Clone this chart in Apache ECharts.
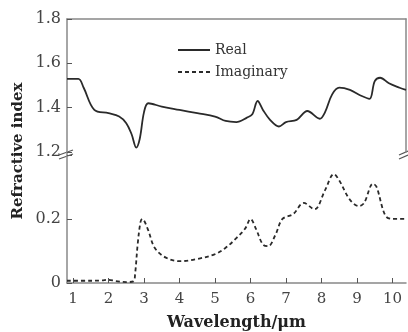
<!DOCTYPE html>
<html>
<head>
<meta charset="utf-8">
<script src="https://cdn.jsdelivr.net/npm/echarts@6/dist/echarts.min.js"></script>
<style>
  html, body { margin: 0; padding: 0; background: #fff; }
  #chart { width: 408px; height: 332px; }
</style>
</head>
<body>
<div id="chart"></div>
<script>
// wavelength ticks
const xTicks = [1, 2, 3, 4, 5, 6, 7, 8, 9, 10]

// real part
const realX = [0.83, 1.15, 1.3, 1.6, 2.0, 2.3, 2.5, 2.65, 2.78, 2.88, 3.0, 3.12, 3.5, 4.0, 4.5, 5.0, 5.3, 5.6, 5.9, 6.05, 6.2, 6.35, 6.55, 6.8, 7.0, 7.3, 7.6, 7.95, 8.1, 8.3, 8.5, 8.8, 9.1, 9.35, 9.5, 9.65, 9.9, 10.2, 10.38]
const realY = [1.53, 1.53, 1.49, 1.39, 1.375, 1.36, 1.33, 1.28, 1.22, 1.26, 1.38, 1.42, 1.405, 1.39, 1.375, 1.36, 1.34, 1.335, 1.355, 1.37, 1.43, 1.39, 1.345, 1.315, 1.335, 1.345, 1.385, 1.35, 1.38, 1.46, 1.49, 1.48, 1.455, 1.44, 1.52, 1.535, 1.51, 1.49, 1.48]

// imaginary part
const imagX = [0.83, 1.5, 1.8, 2.0, 2.2, 2.5, 2.7, 2.75, 2.82, 2.9, 2.95, 3.1, 3.3, 3.6, 4.0, 4.5, 5.0, 5.3, 5.6, 5.85, 6.0, 6.15, 6.35, 6.5, 6.7, 6.9, 7.2, 7.5, 7.8, 8.1, 8.35, 8.5, 8.8, 9.05, 9.2, 9.45, 9.55, 9.8, 10.0, 10.38]
const imagY = [0.007, 0.007, 0.008, 0.01, 0.006, 0.003, 0.005, 0.03, 0.12, 0.19, 0.2, 0.17, 0.11, 0.08, 0.068, 0.075, 0.09, 0.11, 0.14, 0.17, 0.2, 0.17, 0.12, 0.115, 0.15, 0.2, 0.215, 0.25, 0.23, 0.29, 0.34, 0.32, 0.26, 0.24, 0.25, 0.31, 0.3, 0.21, 0.2, 0.2]

const zip = (xs, ys) => xs.map((x, i) => [x, ys[i]])

const font = 'DejaVu Serif'
const axisColor = '#888'
const labelColor = '#444'
const xMin = 0.83
const xMax = 10.38

const chart = echarts.init(document.getElementById('chart'))

chart.setOption({
  animation: false,
  grid: [
    { left: 67, top: 19, width: 339, height: 133 },
    { left: 67, top: 152, width: 339, height: 131 }
  ],
  legend: {
    left: 172,
    top: 38,
    orient: 'vertical',
    itemWidth: 32,
    itemHeight: 14,
    itemGap: 8,
    itemStyle: { opacity: 0 },
    textStyle: { fontFamily: font, fontSize: 14, color: '#333' },
    data: ['Real', 'Imaginary']
  },
  xAxis: [
    {
      gridIndex: 0, type: 'value', position: 'top', min: xMin, max: xMax,
      axisLine: { lineStyle: { color: axisColor, width: 1.5 } },
      axisTick: { show: false }, axisLabel: { show: false }, splitLine: { show: false }
    },
    {
      gridIndex: 1, type: 'value', min: xMin, max: xMax,
      name: 'Wavelength/μm', nameLocation: 'middle', nameGap: 32,
      nameTextStyle: { fontFamily: font, fontSize: 16, fontWeight: 'bold', color: '#222' },
      axisLine: { lineStyle: { color: axisColor, width: 1.5 } },
      axisTick: { inside: true, length: 5, customValues: xTicks, lineStyle: { color: '#555' } },
      axisLabel: { customValues: xTicks, margin: 9, fontFamily: font, fontSize: 15, color: labelColor },
      splitLine: { show: false }
    }
  ],
  yAxis: [
    {
      gridIndex: 0, type: 'value', min: 1.2, max: 1.8, interval: 0.2,
      axisLine: { show: true, lineStyle: { color: axisColor, width: 1.5 } },
      axisTick: { show: true, inside: true, length: 5, lineStyle: { color: '#555' } },
      axisLabel: { margin: 6, fontFamily: font, fontSize: 16, color: labelColor, formatter: v => v.toFixed(1) },
      splitLine: { show: false }
    },
    {
      gridIndex: 0, type: 'value', position: 'right', min: 1.2, max: 1.8,
      axisLine: { show: true, lineStyle: { color: axisColor, width: 1.5 } },
      axisTick: { show: false }, axisLabel: { show: false }, splitLine: { show: false }
    },
    {
      gridIndex: 1, type: 'value', min: 0, max: 0.409, interval: 0.2,
      axisLine: { show: true, lineStyle: { color: axisColor, width: 1.5 } },
      axisTick: { show: true, inside: true, length: 5, lineStyle: { color: '#555' } },
      axisLabel: {
        margin: 6, fontFamily: font, fontSize: 16, color: labelColor,
        formatter: v => (v === 0 ? '0' : v > 0.3 ? '' : v.toFixed(1))
      },
      splitLine: { show: false }
    }
  ],
  series: [
    {
      name: 'Real', type: 'line', xAxisIndex: 0, yAxisIndex: 0,
      data: zip(realX, realY), symbol: 'none', smooth: 0.35,
      lineStyle: { color: '#2a2a2a', width: 1.8 }, itemStyle: { color: '#2a2a2a' }
    },
    {
      name: 'Imaginary', type: 'line', xAxisIndex: 1, yAxisIndex: 2,
      data: zip(imagX, imagY), symbol: 'none', smooth: 0.35,
      lineStyle: { color: '#2a2a2a', width: 1.8, type: [4, 3] }, itemStyle: { color: '#2a2a2a' }
    }
  ],
  graphic: [
    {
      type: 'text', x: 18, y: 151, rotation: Math.PI / 2,
      style: {
        text: 'Refractive index', fontFamily: font, fontSize: 15, fontWeight: 'bold',
        fill: '#222', align: 'center', verticalAlign: 'middle'
      }
    },
    // axis break marks
    { type: 'line', shape: { x1: 59, y1: 155, x2: 73, y2: 150 }, style: { stroke: '#555', lineWidth: 1.2 } },
    { type: 'line', shape: { x1: 59, y1: 159, x2: 73, y2: 154 }, style: { stroke: '#555', lineWidth: 1.2 } },
    { type: 'line', shape: { x1: 399, y1: 155, x2: 408, y2: 151 }, style: { stroke: '#555', lineWidth: 1.2 } },
    { type: 'line', shape: { x1: 399, y1: 159, x2: 408, y2: 155 }, style: { stroke: '#555', lineWidth: 1.2 } }
  ]
})
</script>
</body>
</html>
